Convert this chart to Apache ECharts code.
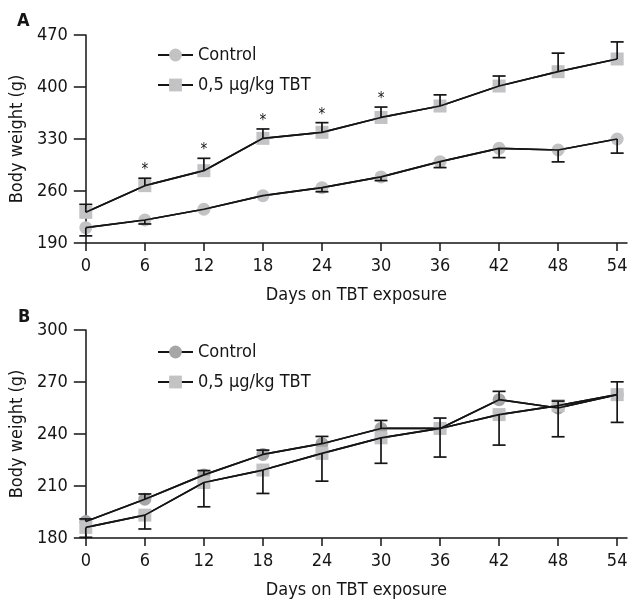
<!DOCTYPE html>
<html>
<head>
<meta charset="utf-8">
<script src="https://cdn.jsdelivr.net/npm/echarts@6/dist/echarts.min.js"></script>
<style>
  html, body { margin: 0; padding: 0; background: #fff; }
  #chart { width: 633px; height: 600px; }
</style>
</head>
<body>
<div id="chart"></div>
<script>
// days of exposure (x axis)
const days = [0, 6, 12, 18, 24, 30, 36, 42, 48, 54]

// panel A
const ctrlA = [210.6, 221, 235.4, 253.7, 264.5, 279, 299.5, 317.4, 315.2, 330]
const ctrlAErr = [11, 5.4, 0, 0, 5.5, 5, 8, 12.5, 16, 19]
const tbtA = [231.3, 267.2, 287.4, 330.9, 339, 359, 374.4, 401.3, 420.6, 437.7]
const tbtAErr = [10.7, 10, 16.6, 12.6, 13, 14, 15, 13.5, 25, 23]
const starDaysA = [6, 12, 18, 24, 30]
const yTicksA = [190, 260, 330, 400, 470]

// panel B
const ctrlB = [189.5, 202.4, 216.4, 228.2, 234.4, 243.2, 243.2, 259.8, 255, 262.7]
const ctrlBErr = [1.5, 3, 2.5, 2.5, 4.2, 4.6, 6, 4.8, 4, 7.4]
const tbtB = [186.1, 193.2, 212, 219.2, 228.8, 237.8, 243.2, 251.2, 256.4, 262.7]
const tbtBErr = [5.7, 8, 14, 13.5, 16, 14.7, 16.5, 17.6, 18, 16]

const FONT = "'Liberation Sans Narrow', 'DejaVu Sans Condensed', 'Roboto', sans-serif"
const INK = "#151515"
const LIGHT = "#c3c3c6"
const DARK = "#a6a6a9"
const NAME_C = "Control"
const NAME_T = "0,5 \u03bcg/kg TBT"

const chart = echarts.init(document.getElementById("chart"))

// error bar: dir 1 = upward, -1 = downward
function errRender(params, api) {
  const x = api.value(0), y = api.value(1), e = api.value(2), dir = api.value(3)
  if (!e) return
  const p0 = api.coord([x, y])
  const p1 = api.coord([x, y + dir * e])
  const w = 6.5
  return {
    type: "group",
    children: [
      { type: "line", shape: { x1: p0[0], y1: p0[1], x2: p1[0], y2: p1[1] }, style: { stroke: INK, lineWidth: 1.7 } },
      { type: "line", shape: { x1: p1[0] - w, y1: p1[1], x2: p1[0] + w, y2: p1[1] }, style: { stroke: INK, lineWidth: 1.7 } }
    ]
  }
}

function starRender(params, api) {
  const p = api.coord([api.value(0), api.value(1)])
  return {
    type: "text",
    x: p[0], y: p[1] - 8,
    style: { text: "*", fill: INK, font: "15px " + FONT, align: "center", verticalAlign: "middle" }
  }
}

function pairs(vals) { return days.map((d, i) => [d, vals[i]]) }
function errData(vals, errs, dir) { return days.map((d, i) => [d, vals[i], errs[i], dir]) }

function xAxis(gi) {
  return {
    type: "value", gridIndex: gi, min: 0, max: 55,
    name: "Days on TBT exposure", nameLocation: "middle", nameGap: 43,
    nameTextStyle: { fontFamily: FONT, fontSize: 18, color: INK },
    axisLine: { lineStyle: { color: INK, width: 1.5 } },
    axisTick: { length: 8, lineStyle: { color: INK, width: 1.5 }, customValues: days },
    axisLabel: { fontFamily: FONT, fontSize: 18, color: INK, margin: 14, customValues: days },
    splitLine: { show: false }
  }
}

function yAxis(gi, min, max, extra) {
  return Object.assign({
    type: "value", gridIndex: gi, min: min, max: max,
    name: "Body weight (g)", nameLocation: "middle", nameGap: 50,
    nameTextStyle: { fontFamily: FONT, fontSize: 18, color: INK },
    axisLine: { show: true, lineStyle: { color: INK, width: 1.5 } },
    axisTick: { show: true, length: 12, lineStyle: { color: INK, width: 1.5 } },
    axisLabel: { fontFamily: FONT, fontSize: 18, color: INK, margin: 18 },
    splitLine: { show: false }
  }, extra)
}

function lineSeries(name, gi, vals, symbol, color) {
  return {
    type: "line", name: name, xAxisIndex: gi, yAxisIndex: gi, data: pairs(vals),
    symbol: symbol, symbolSize: 13, showSymbol: true,
    itemStyle: { color: color, opacity: 1 },
    lineStyle: { color: INK, width: 1.7 },
    emphasis: { disabled: true }, z: 2
  }
}

// plain line drawn over the markers
function topLine(name, gi, vals) {
  return {
    type: "line", name: name, xAxisIndex: gi, yAxisIndex: gi, data: pairs(vals),
    symbol: "none", lineStyle: { color: INK, width: 1.7 }, silent: true, z: 4
  }
}

function errSeries(name, gi, vals, errs, dir) {
  return {
    type: "custom", name: name, xAxisIndex: gi, yAxisIndex: gi,
    renderItem: errRender, data: errData(vals, errs, dir), silent: true, z: 5
  }
}

function legend(top, ctrlColor) {
  return {
    orient: "vertical", left: 157, top: top, padding: 0, itemGap: 12,
    itemWidth: 35, itemHeight: 16, selectedMode: false,
    textStyle: { fontFamily: FONT, fontSize: 18, color: INK },
    data: [
      { name: NAME_C, itemStyle: { color: ctrlColor } },
      { name: NAME_T, itemStyle: { color: LIGHT } }
    ]
  }
}

const option = {
  animation: false,
  backgroundColor: "#fff",
  title: [
    { text: "A", left: 17, top: 12, padding: 0, textStyle: { fontFamily: FONT, fontSize: 18, fontWeight: "bold", color: INK } },
    { text: "B", left: 18, top: 308, padding: 0, textStyle: { fontFamily: FONT, fontSize: 18, fontWeight: "bold", color: INK } }
  ],
  legend: [legend(46, LIGHT), legend(343, DARK)],
  grid: [
    { left: 85, top: 35, width: 542, height: 208 },
    { left: 85, top: 330, width: 542, height: 209 }
  ],
  xAxis: [xAxis(0), xAxis(1)],
  yAxis: [
    yAxis(0, 190, 470, {
      axisTick: { show: true, length: 12, lineStyle: { color: INK, width: 1.5 }, customValues: yTicksA },
      axisLabel: { fontFamily: FONT, fontSize: 18, color: INK, margin: 18, customValues: yTicksA }
    }),
    yAxis(1, 180, 300, { interval: 30 })
  ],
  series: [
    lineSeries(NAME_C, 0, ctrlA, "circle", LIGHT),
    lineSeries(NAME_T, 0, tbtA, "rect", LIGHT),
    topLine("ctrlA-line", 0, ctrlA),
    topLine("tbtA-line", 0, tbtA),
    errSeries("ctrlA-err", 0, ctrlA, ctrlAErr, -1),
    errSeries("tbtA-err", 0, tbtA, tbtAErr, 1),
    {
      type: "custom", name: "stars", xAxisIndex: 0, yAxisIndex: 0, silent: true, z: 5,
      renderItem: starRender,
      data: starDaysA.map(d => { const i = days.indexOf(d); return [d, tbtA[i] + tbtAErr[i]] })
    },
    lineSeries(NAME_C, 1, ctrlB, "circle", DARK),
    lineSeries(NAME_T, 1, tbtB, "rect", LIGHT),
    topLine("ctrlB-line", 1, ctrlB),
    topLine("tbtB-line", 1, tbtB),
    errSeries("ctrlB-err", 1, ctrlB, ctrlBErr, 1),
    errSeries("tbtB-err", 1, tbtB, tbtBErr, -1)
  ]
}

chart.setOption(option)
</script>
</body>
</html>
